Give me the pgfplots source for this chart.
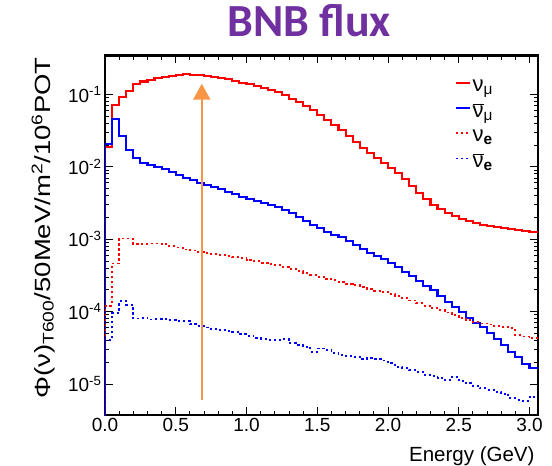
\documentclass[border=0pt]{standalone}
\usepackage{pgfplots}
\pgfplotsset{compat=1.18}
\usepackage{fontspec}
\setmainfont{Liberation Sans}
\newfontfamily\titlefont{Carlito}
\usetikzlibrary{arrows.meta}
\definecolor{bnbpurple}{RGB}{112,48,160}
\definecolor{arroworange}{RGB}{247,150,70}
\newcommand{\nubar}{\ensuremath{\overline{\mbox{ν}}}}

\begin{document}
\begin{tikzpicture}
\path[use as bounding box] (-105pt,-51pt) rectangle (447pt,415pt);
\begin{axis}[
    at={(0pt,0pt)}, anchor=south west,
    scale only axis, width=433pt, height=359.5pt,
    ymode=log,
    xmin=0, xmax=3.06, ymin=3.73e-6, ymax=0.345,
    axis line style={line width=2.2pt},
    tick style={black, line width=0.9pt},
    major tick length=8pt, minor tick length=4.5pt,
    xtick={0,0.5,...,3.0}, minor x tick num=4,
    ytick={1e-5,1e-4,1e-3,1e-2,1e-1},
    yticklabels={10\textsuperscript{-5},10\textsuperscript{-4},10\textsuperscript{-3},10\textsuperscript{-2},10\textsuperscript{-1}},
    tick label style={font=\fontsize{19}{20}\selectfont},
    /pgf/number format/assume math mode=true,
    xticklabel style={/pgf/number format/.cd, fixed, fixed zerofill, precision=1},
    xlabel={Energy (GeV)},
    xlabel style={at={(axis description cs:1,-0.128)}, anchor=base east, font=\fontsize{20.5}{21}\selectfont},
    ylabel={\scalebox{1.25}[1]{Φ(ν)\textsubscript{T600}/50MeV/m\textsuperscript{2}/10\textsuperscript{6}POT}},
    ylabel style={at={(axis description cs:-0.127,0.52)}, anchor=base, rotate=0, font=\fontsize{22}{22}\selectfont},
    legend style={draw=none, fill=none, at={(rel axis cs:0.80,0.945)}, anchor=north west,
      font=\fontsize{22}{24}\selectfont, row sep=7pt},
    legend cell align=left,
    legend image code/.code={\draw[#1] (0pt,0.3em) -- (14pt,0.3em);},
    const plot,
  ]
  \addplot[red, line width=2.1pt] coordinates {(0,1e-6) (0,0.01875) (0.05,0.0705) (0.10,0.0918) (0.15,0.111) (0.20,0.1406) (0.25,0.151) (0.30,0.1596) (0.35,0.168) (0.40,0.1754) (0.45,0.181) (0.50,0.187) (0.55,0.189) (0.60,0.187) (0.65,0.1845) (0.70,0.181) (0.75,0.1754) (0.80,0.170) (0.85,0.1626) (0.90,0.1545) (0.95,0.145) (1.00,0.1374) (1.05,0.131) (1.10,0.123) (1.15,0.1153) (1.20,0.1076) (1.25,0.0969) (1.30,0.0873) (1.35,0.0776) (1.40,0.0683) (1.45,0.0602) (1.50,0.0513) (1.55,0.0438) (1.60,0.0374) (1.65,0.0319) (1.70,0.0264) (1.75,0.0218) (1.80,0.0180) (1.85,0.01535) (1.90,0.0131) (1.95,0.01117) (2.00,0.00953) (2.05,0.00813) (2.10,0.00673) (2.15,0.00538) (2.20,0.00431) (2.25,0.00356) (2.30,0.00294) (2.35,0.00259) (2.40,0.00229) (2.45,0.00208) (2.50,0.00189) (2.55,0.00177) (2.60,0.00166) (2.65,0.00158) (2.70,0.00153) (2.75,0.00149) (2.80,0.00144) (2.85,0.0014) (2.90,0.00135) (2.95,0.00131) (3.00,0.00127) (3.06,0.00127)};
  \addlegendentry{ν\textsubscript{μ}}
  \addplot[blue, line width=2.1pt] coordinates {(0,1e-6) (0,0.0204) (0.05,0.0462) (0.10,0.0266) (0.15,0.0169) (0.20,0.0134) (0.25,0.01143) (0.30,0.0105) (0.35,0.00994) (0.40,0.00944) (0.45,0.00848) (0.50,0.00763) (0.55,0.00701) (0.60,0.00651) (0.65,0.00605) (0.70,0.00568) (0.75,0.00526) (0.80,0.00489) (0.85,0.00449) (0.90,0.00418) (0.95,0.00383) (1.00,0.00362) (1.05,0.00334) (1.10,0.00314) (1.15,0.00294) (1.20,0.00276) (1.25,0.00251) (1.30,0.00229) (1.35,0.00201) (1.40,0.00177) (1.45,0.00158) (1.50,0.00142) (1.55,0.00127) (1.60,0.00115) (1.65,0.00107) (1.70,0.000938) (1.75,0.000826) (1.80,0.000728) (1.85,0.000641) (1.90,0.000583) (1.95,0.00053) (2.00,0.000467) (2.05,0.000411) (2.10,0.000351) (2.15,0.000309) (2.20,0.000264) (2.25,0.000225) (2.30,0.000198) (2.35,0.000164) (2.40,0.000135) (2.45,0.000115) (2.50,0.0000984) (2.55,0.0000813) (2.60,0.0000694) (2.65,0.0000611) (2.70,0.0000505) (2.75,0.0000418) (2.80,0.0000345) (2.85,0.0000276) (2.90,0.0000236) (2.95,0.0000189) (3.00,0.0000166) (3.06,0.0000166)};
  \addlegendentry{\nubar\textsubscript{μ}}
  \addplot[red, line width=1.8pt, dash pattern=on 2.2pt off 2.8pt] coordinates {(0,1e-6) (0,1.20e-4) (0.05,4.62e-4) (0.10,1.023e-3) (0.15,1.023e-3) (0.20,8.53e-4) (0.25,8.61e-4) (0.30,8.73e-4) (0.35,8.73e-4) (0.40,8.53e-4) (0.45,8.09e-4) (0.50,7.69e-4) (0.55,7.21e-4) (0.60,6.98e-4) (0.65,6.68e-4) (0.70,6.47e-4) (0.75,6.21e-4) (0.80,6.01e-4) (0.85,5.83e-4) (0.90,5.65e-4) (0.95,5.47e-4) (1.00,5.21e-4) (1.05,4.97e-4) (1.10,4.74e-4) (1.15,4.52e-4) (1.20,4.38e-4) (1.25,4.11e-4) (1.30,3.86e-4) (1.35,3.62e-4) (1.40,3.40e-4) (1.45,3.24e-4) (1.50,3.04e-4) (1.55,2.85e-4) (1.60,2.72e-4) (1.65,2.58e-4) (1.70,2.43e-4) (1.75,2.32e-4) (1.80,2.21e-4) (1.85,2.07e-4) (1.90,1.95e-4) (1.95,1.86e-4) (2.00,1.74e-4) (2.05,1.64e-4) (2.10,1.53e-4) (2.15,1.42e-4) (2.20,1.31e-4) (2.25,1.21e-4) (2.30,1.12e-4) (2.35,1.05e-4) (2.40,9.69e-5) (2.45,8.95e-5) (2.50,8.13e-5) (2.55,7.64e-5) (2.60,7.16e-5) (2.65,6.87e-5) (2.70,6.62e-5) (2.75,6.31e-5) (2.80,6.11e-5) (2.85,5.92e-5) (2.90,4.74e-5) (2.95,4.52e-5) (3.00,4.31e-5) (3.06,4.31e-5)};
  \addlegendentry{ν\textsubscript{\textbf{e}}}
  \addplot[blue, line width=1.8pt, dash pattern=on 2.2pt off 2.8pt] coordinates {(0,1e-6) (0,4.05e-5) (0.05,9.53e-5) (0.10,1.40e-4) (0.15,1.23e-4) (0.20,8.05e-5) (0.25,8.21e-5) (0.30,7.80e-5) (0.35,7.88e-5) (0.40,7.88e-5) (0.45,7.64e-5) (0.50,7.47e-5) (0.55,7.47e-5) (0.60,6.66e-5) (0.65,6.31e-5) (0.70,6.05e-5) (0.75,5.79e-5) (0.80,5.56e-5) (0.85,5.43e-5) (0.90,5.26e-5) (0.95,4.85e-5) (1.00,4.63e-5) (1.05,4.27e-5) (1.10,4.18e-5) (1.15,4.05e-5) (1.20,4.05e-5) (1.25,4.14e-5) (1.30,3.64e-5) (1.35,3.45e-5) (1.40,3.27e-5) (1.45,2.79e-5) (1.50,3.10e-5) (1.55,2.94e-5) (1.60,2.68e-5) (1.65,2.51e-5) (1.70,2.43e-5) (1.75,2.38e-5) (1.80,2.19e-5) (1.85,2.26e-5) (1.90,2.19e-5) (1.95,2.11e-5) (2.00,1.93e-5) (2.05,1.73e-5) (2.10,1.66e-5) (2.15,1.56e-5) (2.20,1.47e-5) (2.25,1.33e-5) (2.30,1.29e-5) (2.35,1.21e-5) (2.40,1.14e-5) (2.45,1.26e-5) (2.50,1.10e-5) (2.55,1.03e-5) (2.60,9.38e-6) (2.65,8.73e-6) (2.70,8.26e-6) (2.75,7.83e-6) (2.80,7.28e-6) (2.85,6.35e-6) (2.90,6.01e-6) (2.95,5.89e-6) (3.00,6.68e-6) (3.06,6.68e-6)};
  \addlegendentry{\nubar\textsubscript{\textbf{e}}}
  \draw[arroworange, line width=2.4pt, -{Triangle[width=17pt,length=16pt]}]
    (axis cs:0.684,6.0e-6) -- (axis cs:0.684,0.1406);
\end{axis}
\node[font=\titlefont\bfseries\fontsize{46}{46}\selectfont, text=bnbpurple, anchor=base] at (204pt,378.3pt) {BNB flux};
\end{tikzpicture}
\end{document}
